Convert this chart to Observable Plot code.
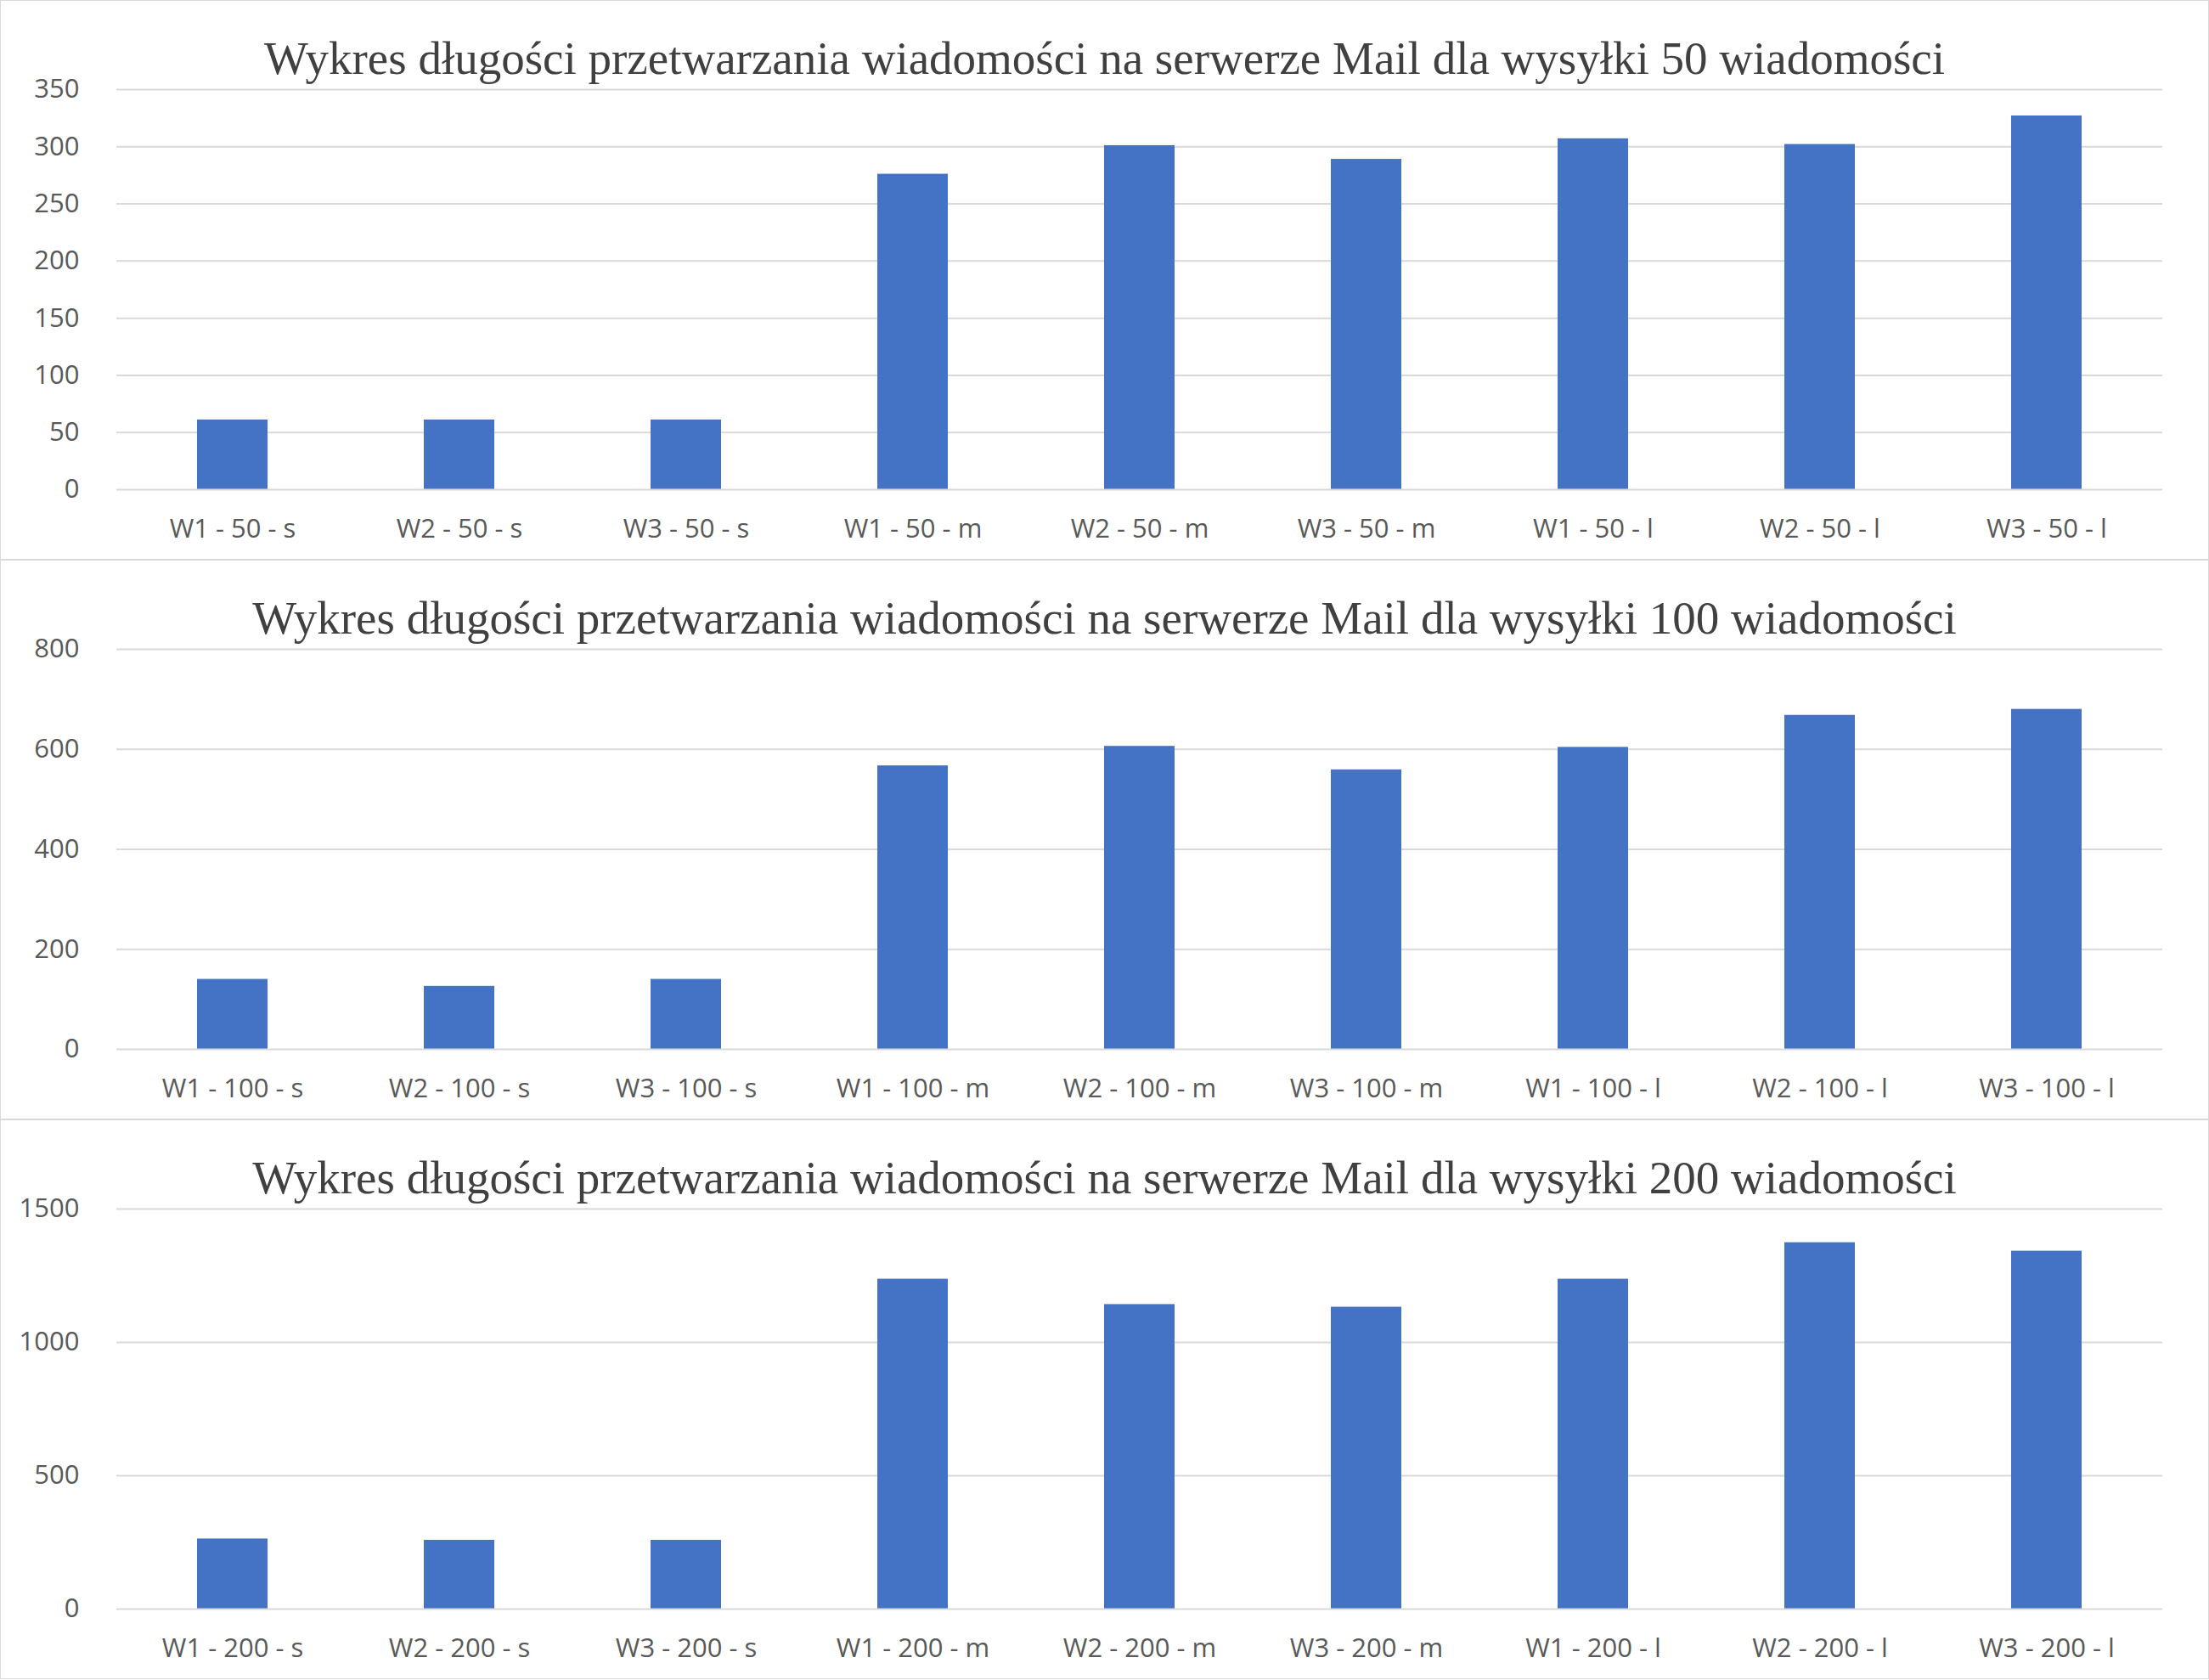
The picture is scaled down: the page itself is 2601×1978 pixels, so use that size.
<!DOCTYPE html>
<html>
<head>
<meta charset="utf-8">
<script src="https://cdn.jsdelivr.net/npm/d3@7"></script>
<script src="https://cdn.jsdelivr.net/npm/@observablehq/plot@0.6"></script>
<style>
  body { margin: 0; background: #fff; }
  .panel { position: relative; width: 2599px; height: 657px; border: 1px solid #d9d9d9; }
  .title { position: absolute; left: 0; right: 0; top: 36px; text-align: center;
           font-family: "Liberation Serif", serif; font-size: 55px; color: #404040; }
</style>
</head>
<body>
<div id="chart"></div>
<script>
const labels50 = ["W1 - 50 - s","W2 - 50 - s","W3 - 50 - s","W1 - 50 - m","W2 - 50 - m","W3 - 50 - m","W1 - 50 - l","W2 - 50 - l","W3 - 50 - l"]
const values50 = [61, 61, 61, 276, 301, 289, 307, 302, 327]
const labels100 = ["W1 - 100 - s","W2 - 100 - s","W3 - 100 - s","W1 - 100 - m","W2 - 100 - m","W3 - 100 - m","W1 - 100 - l","W2 - 100 - l","W3 - 100 - l"]
const values100 = [140, 126, 140, 567, 606, 559, 604, 668, 680]
const labels200 = ["W1 - 200 - s","W2 - 200 - s","W3 - 200 - s","W1 - 200 - m","W2 - 200 - m","W3 - 200 - m","W1 - 200 - l","W2 - 200 - l","W3 - 200 - l"]
const values200 = [263, 258, 258, 1237, 1142, 1132, 1237, 1374, 1342]

const panels = [
  {title: "Wykres długości przetwarzania wiadomości na serwerze Mail dla wysyłki 50 wiadomości", labels: labels50, values: values50, max: 350, step: 50},
  {title: "Wykres długości przetwarzania wiadomości na serwerze Mail dla wysyłki 100 wiadomości", labels: labels100, values: values100, max: 800, step: 200},
  {title: "Wykres długości przetwarzania wiadomości na serwerze Mail dla wysyłki 200 wiadomości", labels: labels200, values: values200, max: 1500, step: 500}
]

panels.forEach(p => {
  const data = p.labels.map((k, i) => ({k, v: p.values[i]}))
  const chart = Plot.plot({
    width: 2599, height: 657,
    marginTop: 104, marginBottom: 82, marginLeft: 136, marginRight: 54,
    style: {fontFamily: "Open Sans, sans-serif", fontSize: 31, color: "#595959"},
    x: {domain: p.labels, paddingInner: 0.69, paddingOuter: 0.345, label: null, tickSize: 0, tickPadding: 34},
    y: {domain: [0, p.max], ticks: d3.range(0, p.max + 1, p.step), tickFormat: d3.format("d"), label: null, tickSize: 0, tickPadding: 44},
    marks: [
      Plot.gridY(d3.range(p.step, p.max + 1, p.step), {stroke: "#d9d9d9", strokeOpacity: 1, strokeWidth: 2}),
      Plot.barY(data, {x: "k", y: "v", fill: "#4472C4"}),
      Plot.ruleY([0], {stroke: "#d9d9d9", strokeWidth: 2})
    ]
  })
  const div = d3.select('#chart').append('div').attr('class', 'panel')
  div.append(() => chart)
  div.append('div').attr('class', 'title').text(p.title)
})
</script>
</body>
</html>
